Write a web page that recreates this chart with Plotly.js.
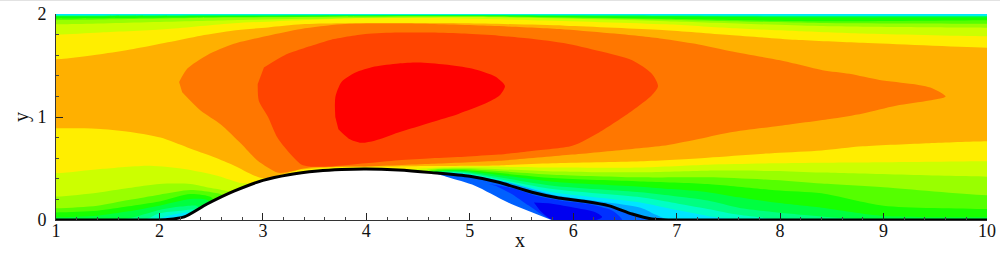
<!DOCTYPE html>
<html>
<head>
<meta charset="utf-8">
<script src="https://cdn.plot.ly/plotly-3.0.1.min.js"></script>
<style>html,body{margin:0;padding:0;background:#fff;overflow:hidden}#top{height:1px;background:#e2e2e2}#chart{width:1000px;height:255px}</style>
</head>
<body>
<div id="top"></div>
<div id="chart"></div>
<script>
// Upper edge stations shared by the thin wall bands near y = 2
const topX = [1, 2.7, 5, 6.9, 8.38, 10];
const topC0 = [1.99, 1.995, 1.995, 1.99, 1.985, 1.985];
const top80 = [1.985, 1.99, 1.99, 1.985, 1.98, 1.98];
const top40 = [1.98, 1.985, 1.988, 1.98, 1.975, 1.975];
const top00 = [1.975, 1.98, 1.985, 1.975, 1.965, 1.965];
const top55 = [1.955, 1.97, 1.98, 1.955, 1.93, 1.94];
const top99 = [1.94, 1.965, 1.975, 1.945, 1.913, 1.906];
const topYG = [1.90, 1.94, 1.97, 1.93, 1.883, 1.867];

// Lower contours of the bands
const c0LowX = [1, 1.95, 2.1, 2.3, 2.35, 4.3, 4.6, 4.91, 5.8, 6.65, 6.95, 7.3, 7.5, 7.6, 10];
const c0LowY = [0, 0, 0.045, 0.07, 0.03, 0.3, 0.445, 0.453, 0.269, 0.17, 0.107, 0.04, 0.01, 0, 0];
const g80LowX = [1, 1.85, 2, 2.2, 2.35, 2.4, 4.3, 4.6, 4.91, 5.8, 6.65, 6.95, 7.3, 7.6, 7.95, 8.1, 10];
const g80LowY = [0, 0, 0.065, 0.09, 0.1, 0.05, 0.3, 0.45, 0.46, 0.3, 0.22, 0.17, 0.107, 0.05, 0.01, 0, 0];
const g40LowX = [1, 1.6, 1.8, 2, 2.2, 2.35, 2.42, 4.3, 4.6, 4.91, 5.8, 6.65, 6.95, 7.3, 7.6, 7.95, 8.4, 9, 10];
const g40LowY = [0, 0, 0.04, 0.097, 0.13, 0.14, 0.1, 0.3, 0.455, 0.469, 0.333, 0.27, 0.236, 0.19, 0.12, 0.075, 0.035, 0, 0];
const g00LowX = [1, 1.4, 1.7, 2, 2.3, 2.47, 2.52, 4.3, 4.6, 4.91, 5.8, 6.65, 6.95, 7.3, 7.6, 7.95, 8.4, 9, 10];
const g00LowY = [0.026, 0.042, 0.084, 0.139, 0.204, 0.19, 0.1, 0.3, 0.46, 0.479, 0.372, 0.324, 0.3, 0.27, 0.22, 0.17, 0.12, 0.04, 0.026];
const g55LowX = [1, 1.4, 1.7, 2, 2.3, 2.5, 2.58, 4.3, 4.6, 4.91, 5.8, 6.65, 7.3, 7.95, 8.4, 9, 10];
const g55LowY = [0.074, 0.09, 0.133, 0.18, 0.252, 0.22, 0.1, 0.3, 0.465, 0.485, 0.408, 0.375, 0.35, 0.29, 0.26, 0.139, 0.107];
const g99LowX = [1, 1.4, 1.7, 2, 2.3, 2.5, 2.62, 2.7, 4.4, 4.6, 4.91, 5.8, 6.65, 7.3, 7.95, 8.4, 9, 10];
const g99LowY = [0.113, 0.139, 0.194, 0.246, 0.291, 0.27, 0.24, 0.1, 0.3, 0.475, 0.495, 0.44, 0.414, 0.414, 0.388, 0.354, 0.317, 0.24];
const ygLowX = [1, 1.4, 1.7, 2, 2.3, 2.5, 2.7, 2.85, 4.3, 4.6, 4.91, 5.8, 6.65, 7.3, 7.95, 8.4, 10];
const ygLowY = [0.227, 0.265, 0.31, 0.35, 0.35, 0.31, 0.27, 0.2, 0.4, 0.49, 0.505, 0.472, 0.463, 0.479, 0.475, 0.46, 0.42];

const yellowLowX = [1, 1.43, 1.91, 2.24, 2.56, 2.8, 3, 3.5, 4, 4.4, 4.6, 4.91, 5.8, 6.65, 7.3, 7.95, 8.4, 9, 10];
const yellowLowY = [0.453, 0.495, 0.527, 0.495, 0.43, 0.356, 0.36, 0.47, 0.485, 0.49, 0.505, 0.518, 0.51, 0.51, 0.537, 0.55, 0.555, 0.56, 0.57];
const yellowUpX = [1, 1.43, 2.08, 2.72, 3.37, 3.76, 4.63, 5.6, 6.9, 7.51, 8.15, 8.8, 10];
const yellowUpY = [1.80, 1.82, 1.854, 1.91, 1.94, 1.955, 1.96, 1.94, 1.9, 1.864, 1.835, 1.81, 1.783];

const amberLowX = [1, 1.43, 1.75, 2.01, 2.27, 2.53, 2.72, 2.92, 3.01, 3.21, 3.37, 3.76, 3.99, 4.63, 5.28, 5.8, 6.65, 7.3, 7.95, 8.4, 8.8, 9.44, 10];
const amberLowY = [0.89, 0.884, 0.85, 0.8, 0.705, 0.61, 0.53, 0.43, 0.405, 0.45, 0.49, 0.518, 0.518, 0.525, 0.53, 0.55, 0.57, 0.605, 0.65, 0.675, 0.715, 0.745, 0.764];
const amberUpX = [1, 1.43, 1.75, 2.08, 2.4, 2.72, 3.05, 3.37, 3.76, 4.95, 5.92, 6.86, 7.51, 8.15, 8.8, 10];
const amberUpY = [1.56, 1.61, 1.66, 1.725, 1.79, 1.84, 1.87, 1.9, 1.91, 1.91, 1.887, 1.845, 1.796, 1.75, 1.72, 1.673];

// Closed contours
const orangeX = [2.19, 2.27, 2.46, 2.72, 3.05, 3.37, 3.76, 4.5, 5.2, 5.92, 6.4, 6.86, 7.18, 7.51, 8, 8.41, 8.67, 8.96, 9.28, 9.47, 9.6, 9.44, 9.12, 8.8, 8.48, 8, 7.51, 7.18, 6.86, 6.57, 5.99, 5.28, 4.63, 3.99, 3.76, 3.45, 3.21, 3.14, 2.95, 2.79, 2.59, 2.4, 2.22];
const orangeY = [1.34, 1.47, 1.6, 1.71, 1.79, 1.855, 1.9, 1.905, 1.885, 1.85, 1.81, 1.76, 1.71, 1.64, 1.55, 1.455, 1.42, 1.36, 1.32, 1.28, 1.2, 1.16, 1.11, 1.035, 0.98, 0.915, 0.85, 0.78, 0.72, 0.69, 0.635, 0.575, 0.545, 0.52, 0.52, 0.51, 0.46, 0.46, 0.575, 0.74, 0.93, 1.06, 1.24];
const redOrangeX = [2.95, 2.96, 3.05, 3.14, 3.24, 3.37, 3.45, 3.66, 3.99, 4.31, 4.63, 4.95, 5.28, 5.6, 5.99, 6.25, 6.57, 6.76, 6.82, 6.76, 6.57, 6.25, 5.92, 5.6, 5.28, 4.95, 4.63, 4.31, 3.99, 3.66, 3.53, 3.21, 3.01];
const redOrangeY = [1.32, 1.16, 1, 0.8, 0.67, 0.54, 0.52, 0.52, 0.55, 0.58, 0.6, 0.615, 0.635, 0.67, 0.72, 0.85, 1.06, 1.21, 1.3, 1.42, 1.55, 1.64, 1.715, 1.76, 1.79, 1.81, 1.82, 1.82, 1.805, 1.75, 1.71, 1.6, 1.48];
const redX = [3.7, 3.7, 3.76, 3.89, 4.08, 4.31, 4.5, 4.76, 5.02, 5.25, 5.34, 5.29, 5.15, 4.89, 4.63, 4.31, 4.08, 3.95, 3.83, 3.73];
const redY = [1, 1.19, 1.34, 1.43, 1.49, 1.52, 1.53, 1.51, 1.47, 1.39, 1.3, 1.21, 1.13, 1.03, 0.95, 0.85, 0.77, 0.75, 0.79, 0.88];

// Separation bubble
const wakeUpX = [6.9, 6.8, 6.65, 5.8, 5.35, 4.91, 4.6];
const wakeUpY = [0, 0.05, 0.12, 0.246, 0.37, 0.447, 0.46];
const bubbleTailX = [5.5, 4.4];
const bubbleTailY = [0, 0.3];
const blue2X = [5.18, 5.41, 5.64, 5.89, 6.15, 6.38, 6.47, 6.47, 5.8, 5.57, 5.41, 5.25];
const blue2Y = [0.35, 0.31, 0.236, 0.188, 0.155, 0.09, 0.01, 0, 0, 0.14, 0.25, 0.333];
const blue3X = [5.62, 5.76, 5.99, 6.22, 6.28, 6.22, 5.8, 5.68];
const blue3Y = [0.17, 0.162, 0.123, 0.074, 0.03, 0, 0, 0.09];

// Wall and hump
const wallX = [1, 1.9, 2.08, 2.24, 2.46, 2.72, 3, 3.25, 3.53, 3.76, 4, 4.31, 4.63, 5, 5.28, 5.6, 5.86, 6.12, 6.34, 6.57, 6.76, 6.92, 7.1, 10];
const wallY = [0, 0, 0.005, 0.03, 0.155, 0.28, 0.385, 0.44, 0.475, 0.49, 0.495, 0.485, 0.46, 0.424, 0.366, 0.27, 0.214, 0.18, 0.14, 0.058, 0.01, 0, 0, 0];
const humpX = [2.08, 2.24, 2.46, 2.72, 3, 3.25, 3.53, 3.76, 4, 4.31, 4.63, 4.79, 5.05, 5.37, 5.79];
const humpY = [0, 0.03, 0.155, 0.28, 0.385, 0.44, 0.475, 0.49, 0.495, 0.485, 0.46, 0.414, 0.333, 0.17, 0];

const domainX = [1, 10, 10, 1];
const domainY = [0, 0, 2, 2];

const colors = {
  base: '#00e6ff', c0: '#00ffc4', g80: '#00ff80', g40: '#00ff40', g00: '#18ff00',
  g55: '#55ff00', g99: '#99ff00', yg: '#ccff00', yellow: '#ffee00', amber: '#ffb000',
  orange: '#ff7700', redOrange: '#ff4400', red: '#ff0000',
  light: '#00a8ff', blue1: '#0060ff', blue2: '#0030ff', blue3: '#0000f0'
};

function poly(x, y, color, shape) {
  return {type: 'scatter', mode: 'lines', x: x, y: y, fill: 'toself', fillcolor: color,
          line: {width: 0, shape: shape || 'spline', smoothing: 0.7, color: color},
          hoverinfo: 'skip', showlegend: false};
}
// A band between a lower and an upper contour; both are carried on flat past the
// domain edges so the smoothing of the closing corners falls outside the clip area.
function band(lx, ly, ux, uy, color) {
  const x = [lx[0] - 1].concat(lx, [lx[lx.length - 1] + 1, ux[ux.length - 1] + 1], ux.slice().reverse(), [ux[0] - 1]);
  const y = [ly[0]].concat(ly, [ly[ly.length - 1], uy[uy.length - 1]], uy.slice().reverse(), [uy[0]]);
  return poly(x, y, color);
}

const wallStart = wallX.indexOf(4.63);
const wallEnd = wallX.indexOf(6.92) + 1;

const traces = [
  poly(domainX, domainY, colors.base, 'linear'),
  band(c0LowX, c0LowY, topX, topC0, colors.c0),
  band(g80LowX, g80LowY, topX, top80, colors.g80),
  band(g40LowX, g40LowY, topX, top40, colors.g40),
  band(g00LowX, g00LowY, topX, top00, colors.g00),
  band(g55LowX, g55LowY, topX, top55, colors.g55),
  band(g99LowX, g99LowY, topX, top99, colors.g99),
  band(ygLowX, ygLowY, topX, topYG, colors.yg),
  band(yellowLowX, yellowLowY, yellowUpX, yellowUpY, colors.yellow),
  band(amberLowX, amberLowY, amberUpX, amberUpY, colors.amber),
  poly(orangeX, orangeY, colors.orange),
  poly(redOrangeX, redOrangeY, colors.redOrange),
  poly(redX, redY, colors.red),
  poly(humpX.concat(wakeUpX), humpY.concat(wakeUpY), colors.light),
  poly(wallX.slice(wallStart, wallEnd).concat(bubbleTailX), wallY.slice(wallStart, wallEnd).concat(bubbleTailY), colors.blue1),
  poly(blue2X, blue2Y, colors.blue2),
  poly(blue3X, blue3Y, colors.blue3),
  poly(humpX, humpY, '#ffffff'),
  {type: 'scatter', mode: 'lines', x: wallX, y: wallY, line: {color: '#000000', width: 3, shape: 'spline', smoothing: 0.7},
   cliponaxis: false, hoverinfo: 'skip', showlegend: false}
];

const tickFont = {family: '"Liberation Serif", serif', size: 18, color: '#111'};
const titleFont = {family: '"Liberation Serif", serif', size: 20, color: '#111'};
const layout = {
  width: 1000, height: 255,
  margin: {l: 55.5, r: 13, t: 13, b: 36},
  paper_bgcolor: '#fff', plot_bgcolor: '#fff',
  showlegend: false,
  annotations: [
    {text: 'x', xref: 'x', yref: 'paper', x: 5.49, y: 0, yanchor: 'middle', yshift: -20, showarrow: false, font: titleFont}
  ],
  xaxis: {
    range: [1, 10], tickvals: [1, 2, 3, 4, 5, 6, 7, 8, 9, 10], ticks: 'inside', ticklen: 7, tickwidth: 1,
    tickcolor: '#222', showgrid: false, zeroline: false, showline: true, linecolor: '#333', linewidth: 1,
    tickfont: tickFont, ticklabelstandoff: -6,
    minor: {dtick: 0.2, ticks: 'inside', ticklen: 3, tickcolor: '#444', tickwidth: 1, showgrid: false}
  },
  yaxis: {
    range: [0, 2], tickvals: [0, 1, 2], ticks: 'inside', ticklen: 7, tickwidth: 1,
    tickcolor: '#222', showgrid: false, zeroline: false, showline: true, linecolor: '#333', linewidth: 1,
    tickfont: tickFont, ticklabelstandoff: 5,
    minor: {dtick: 0.2, ticks: 'inside', ticklen: 3, tickcolor: '#444', tickwidth: 1, showgrid: false},
    title: {text: 'y', font: titleFont, standoff: 3}
  }
};
Plotly.newPlot('chart', traces, layout, {staticPlot: true, displayModeBar: false});
</script>
</body>
</html>
